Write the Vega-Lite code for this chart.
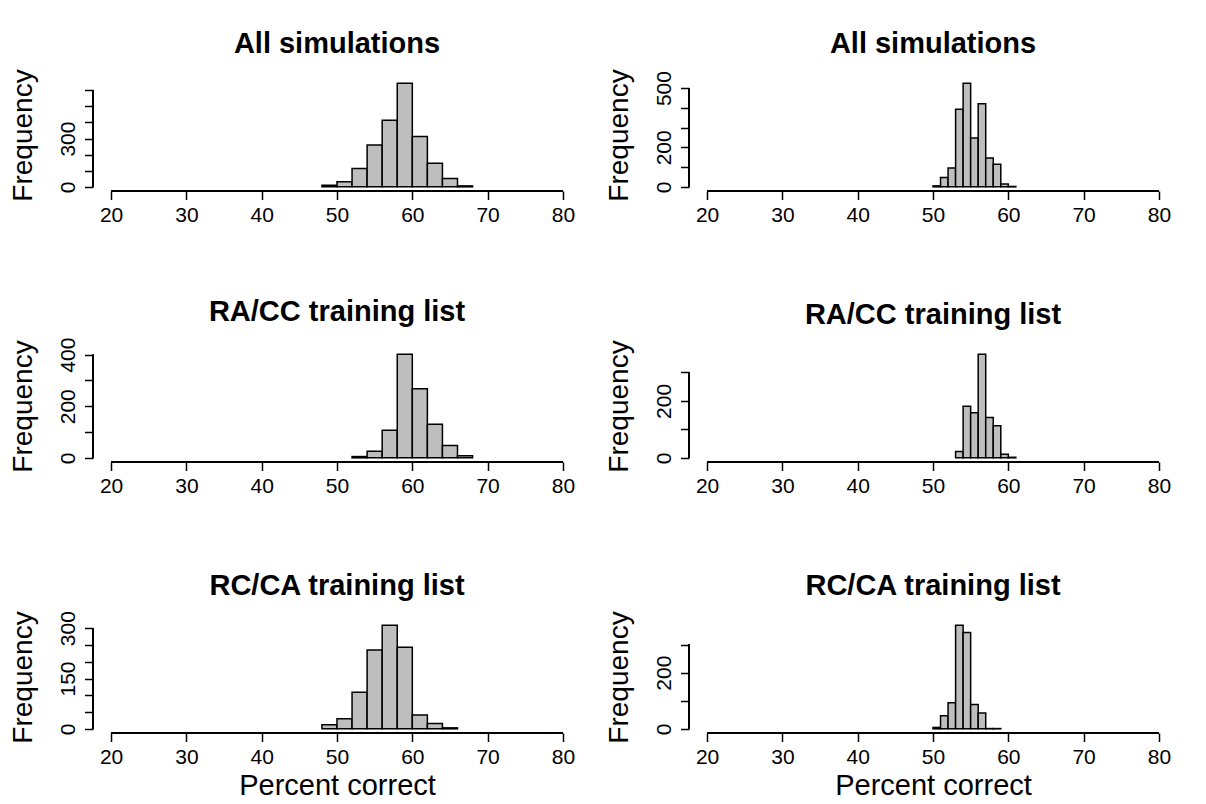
{
  "$schema": "https://vega.github.io/schema/vega-lite/v6.json",
  "background": "white",
  "padding": {"left": 9, "top": 29, "right": 5, "bottom": 5},
  "bounds": "flush",
  "columns": 2,
  "spacing": {"row": 159, "column": 108},
  "datasets": {
    "p1": [
      {"lo": 48, "hi": 50, "count": 10}, {"lo": 50, "hi": 52, "count": 31}, {"lo": 52, "hi": 54, "count": 114},
      {"lo": 54, "hi": 56, "count": 260}, {"lo": 56, "hi": 58, "count": 413}, {"lo": 58, "hi": 60, "count": 644},
      {"lo": 60, "hi": 62, "count": 312}, {"lo": 62, "hi": 64, "count": 147}, {"lo": 64, "hi": 66, "count": 52},
      {"lo": 66, "hi": 68, "count": 6}
    ],
    "p2": [
      {"lo": 50, "hi": 51, "count": 5}, {"lo": 51, "hi": 52, "count": 47}, {"lo": 52, "hi": 53, "count": 95},
      {"lo": 53, "hi": 54, "count": 393}, {"lo": 54, "hi": 55, "count": 525}, {"lo": 55, "hi": 56, "count": 247},
      {"lo": 56, "hi": 57, "count": 421}, {"lo": 57, "hi": 58, "count": 146}, {"lo": 58, "hi": 59, "count": 115},
      {"lo": 59, "hi": 60, "count": 14}, {"lo": 60, "hi": 61, "count": 2}
    ],
    "p3": [
      {"lo": 52, "hi": 54, "count": 5}, {"lo": 54, "hi": 56, "count": 26}, {"lo": 56, "hi": 58, "count": 107},
      {"lo": 58, "hi": 60, "count": 402}, {"lo": 60, "hi": 62, "count": 268}, {"lo": 62, "hi": 64, "count": 130},
      {"lo": 64, "hi": 66, "count": 48}, {"lo": 66, "hi": 68, "count": 8}
    ],
    "p4": [
      {"lo": 53, "hi": 54, "count": 22}, {"lo": 54, "hi": 55, "count": 181}, {"lo": 55, "hi": 56, "count": 158},
      {"lo": 56, "hi": 57, "count": 364}, {"lo": 57, "hi": 58, "count": 142}, {"lo": 58, "hi": 59, "count": 113},
      {"lo": 59, "hi": 60, "count": 13}, {"lo": 60, "hi": 61, "count": 2}
    ],
    "p5": [
      {"lo": 48, "hi": 50, "count": 12}, {"lo": 50, "hi": 52, "count": 30}, {"lo": 52, "hi": 54, "count": 109},
      {"lo": 54, "hi": 56, "count": 235}, {"lo": 56, "hi": 58, "count": 309}, {"lo": 58, "hi": 60, "count": 243},
      {"lo": 60, "hi": 62, "count": 41}, {"lo": 62, "hi": 64, "count": 16}, {"lo": 64, "hi": 66, "count": 3}
    ],
    "p6": [
      {"lo": 50, "hi": 51, "count": 5}, {"lo": 51, "hi": 52, "count": 47}, {"lo": 52, "hi": 53, "count": 93},
      {"lo": 53, "hi": 54, "count": 369}, {"lo": 54, "hi": 55, "count": 343}, {"lo": 55, "hi": 56, "count": 87},
      {"lo": 56, "hi": 57, "count": 56}, {"lo": 57, "hi": 58, "count": 1}, {"lo": 58, "hi": 59, "count": 1}
    ]
  },
  "concat": [
    {
      "width": 488, "height": 112,
      "title": {"text": "All simulations"},
      "data": {"name": "p1"},
      "layer": [
        {"mark": {"type": "rect", "fill": "#bebebe", "stroke": "black", "strokeWidth": 1.5},
         "encoding": {
           "x": {"field": "lo", "type": "quantitative", "scale": {"domain": [17.6, 82.4], "nice": false, "zero": false}, "axis": {"title": null, "values": [20, 30, 40, 50, 60, 70, 80]}},
           "x2": {"field": "hi"},
           "y": {"field": "count", "type": "quantitative", "scale": {"domain": [-25.8, 669.8], "nice": false, "zero": false}, "axis": {"title": "Frequency", "values": [0, 100, 200, 300, 400, 500, 600], "labelExpr": "datum.value == 0 || datum.value == 300 ? datum.label : ''"}},
           "y2": {"datum": 0}}},
        {"mark": {"type": "rule", "stroke": "black", "strokeWidth": 1.5},
         "encoding": {"x": {"datum": 20, "type": "quantitative", "axis": {"title": null, "values": [20, 30, 40, 50, 60, 70, 80]}}, "x2": {"datum": 80}, "y": {"datum": -25.8, "type": "quantitative", "axis": {"title": "Frequency", "values": [0, 100, 200, 300, 400, 500, 600], "labelExpr": "datum.value == 0 || datum.value == 300 ? datum.label : ''"}}}},
        {"mark": {"type": "rule", "stroke": "black", "strokeWidth": 1.5},
         "encoding": {"x": {"datum": 17.6, "type": "quantitative", "axis": {"title": null, "values": [20, 30, 40, 50, 60, 70, 80]}}, "y": {"datum": 0, "type": "quantitative", "axis": {"title": "Frequency", "values": [0, 100, 200, 300, 400, 500, 600], "labelExpr": "datum.value == 0 || datum.value == 300 ? datum.label : ''"}}, "y2": {"datum": 600}}}
      ]
    },
    {
      "width": 488, "height": 112,
      "title": {"text": "All simulations"},
      "data": {"name": "p2"},
      "layer": [
        {"mark": {"type": "rect", "fill": "#bebebe", "stroke": "black", "strokeWidth": 1.5},
         "encoding": {
           "x": {"field": "lo", "type": "quantitative", "scale": {"domain": [17.6, 82.4], "nice": false, "zero": false}, "axis": {"title": null, "values": [20, 30, 40, 50, 60, 70, 80]}},
           "x2": {"field": "hi"},
           "y": {"field": "count", "type": "quantitative", "scale": {"domain": [-21, 546], "nice": false, "zero": false}, "axis": {"title": "Frequency", "values": [0, 100, 200, 300, 400, 500], "labelExpr": "datum.value == 0 || datum.value == 200 || datum.value == 500 ? datum.label : ''"}},
           "y2": {"datum": 0}}},
        {"mark": {"type": "rule", "stroke": "black", "strokeWidth": 1.5},
         "encoding": {"x": {"datum": 20, "type": "quantitative", "axis": {"title": null, "values": [20, 30, 40, 50, 60, 70, 80]}}, "x2": {"datum": 80}, "y": {"datum": -21, "type": "quantitative", "axis": {"title": "Frequency", "values": [0, 100, 200, 300, 400, 500], "labelExpr": "datum.value == 0 || datum.value == 200 || datum.value == 500 ? datum.label : ''"}}}},
        {"mark": {"type": "rule", "stroke": "black", "strokeWidth": 1.5},
         "encoding": {"x": {"datum": 17.6, "type": "quantitative", "axis": {"title": null, "values": [20, 30, 40, 50, 60, 70, 80]}}, "y": {"datum": 0, "type": "quantitative", "axis": {"title": "Frequency", "values": [0, 100, 200, 300, 400, 500], "labelExpr": "datum.value == 0 || datum.value == 200 || datum.value == 500 ? datum.label : ''"}}, "y2": {"datum": 500}}}
      ]
    },
    {
      "width": 488, "height": 112,
      "title": {"text": "RA/CC training list"},
      "data": {"name": "p3"},
      "layer": [
        {"mark": {"type": "rect", "fill": "#bebebe", "stroke": "black", "strokeWidth": 1.5},
         "encoding": {
           "x": {"field": "lo", "type": "quantitative", "scale": {"domain": [17.6, 82.4], "nice": false, "zero": false}, "axis": {"title": null, "values": [20, 30, 40, 50, 60, 70, 80]}},
           "x2": {"field": "hi"},
           "y": {"field": "count", "type": "quantitative", "scale": {"domain": [-16.1, 418.1], "nice": false, "zero": false}, "axis": {"title": "Frequency", "values": [0, 100, 200, 300, 400], "labelExpr": "datum.value == 0 || datum.value == 200 || datum.value == 400 ? datum.label : ''"}},
           "y2": {"datum": 0}}},
        {"mark": {"type": "rule", "stroke": "black", "strokeWidth": 1.5},
         "encoding": {"x": {"datum": 20, "type": "quantitative", "axis": {"title": null, "values": [20, 30, 40, 50, 60, 70, 80]}}, "x2": {"datum": 80}, "y": {"datum": -16.1, "type": "quantitative", "axis": {"title": "Frequency", "values": [0, 100, 200, 300, 400], "labelExpr": "datum.value == 0 || datum.value == 200 || datum.value == 400 ? datum.label : ''"}}}},
        {"mark": {"type": "rule", "stroke": "black", "strokeWidth": 1.5},
         "encoding": {"x": {"datum": 17.6, "type": "quantitative", "axis": {"title": null, "values": [20, 30, 40, 50, 60, 70, 80]}}, "y": {"datum": 0, "type": "quantitative", "axis": {"title": "Frequency", "values": [0, 100, 200, 300, 400], "labelExpr": "datum.value == 0 || datum.value == 200 || datum.value == 400 ? datum.label : ''"}}, "y2": {"datum": 400}}}
      ]
    },
    {
      "width": 488, "height": 112,
      "title": {"text": "RA/CC training list"},
      "data": {"name": "p4"},
      "layer": [
        {"mark": {"type": "rect", "fill": "#bebebe", "stroke": "black", "strokeWidth": 1.5},
         "encoding": {
           "x": {"field": "lo", "type": "quantitative", "scale": {"domain": [17.6, 82.4], "nice": false, "zero": false}, "axis": {"title": null, "values": [20, 30, 40, 50, 60, 70, 80]}},
           "x2": {"field": "hi"},
           "y": {"field": "count", "type": "quantitative", "scale": {"domain": [-14.6, 378.6], "nice": false, "zero": false}, "axis": {"title": "Frequency", "values": [0, 100, 200, 300], "labelExpr": "datum.value == 0 || datum.value == 200 ? datum.label : ''"}},
           "y2": {"datum": 0}}},
        {"mark": {"type": "rule", "stroke": "black", "strokeWidth": 1.5},
         "encoding": {"x": {"datum": 20, "type": "quantitative", "axis": {"title": null, "values": [20, 30, 40, 50, 60, 70, 80]}}, "x2": {"datum": 80}, "y": {"datum": -14.6, "type": "quantitative", "axis": {"title": "Frequency", "values": [0, 100, 200, 300], "labelExpr": "datum.value == 0 || datum.value == 200 ? datum.label : ''"}}}},
        {"mark": {"type": "rule", "stroke": "black", "strokeWidth": 1.5},
         "encoding": {"x": {"datum": 17.6, "type": "quantitative", "axis": {"title": null, "values": [20, 30, 40, 50, 60, 70, 80]}}, "y": {"datum": 0, "type": "quantitative", "axis": {"title": "Frequency", "values": [0, 100, 200, 300], "labelExpr": "datum.value == 0 || datum.value == 200 ? datum.label : ''"}}, "y2": {"datum": 300}}}
      ]
    },
    {
      "width": 488, "height": 112,
      "title": {"text": "RC/CA training list"},
      "data": {"name": "p5"},
      "layer": [
        {"mark": {"type": "rect", "fill": "#bebebe", "stroke": "black", "strokeWidth": 1.5},
         "encoding": {
           "x": {"field": "lo", "type": "quantitative", "scale": {"domain": [17.6, 82.4], "nice": false, "zero": false}, "axis": {"title": "Percent correct", "values": [20, 30, 40, 50, 60, 70, 80]}},
           "x2": {"field": "hi"},
           "y": {"field": "count", "type": "quantitative", "scale": {"domain": [-12.4, 321.4], "nice": false, "zero": false}, "axis": {"title": "Frequency", "values": [0, 50, 100, 150, 200, 250, 300], "labelExpr": "datum.value == 0 || datum.value == 150 || datum.value == 300 ? datum.label : ''"}},
           "y2": {"datum": 0}}},
        {"mark": {"type": "rule", "stroke": "black", "strokeWidth": 1.5},
         "encoding": {"x": {"datum": 20, "type": "quantitative", "axis": {"title": "Percent correct", "values": [20, 30, 40, 50, 60, 70, 80]}}, "x2": {"datum": 80}, "y": {"datum": -12.4, "type": "quantitative", "axis": {"title": "Frequency", "values": [0, 50, 100, 150, 200, 250, 300], "labelExpr": "datum.value == 0 || datum.value == 150 || datum.value == 300 ? datum.label : ''"}}}},
        {"mark": {"type": "rule", "stroke": "black", "strokeWidth": 1.5},
         "encoding": {"x": {"datum": 17.6, "type": "quantitative", "axis": {"title": "Percent correct", "values": [20, 30, 40, 50, 60, 70, 80]}}, "y": {"datum": 0, "type": "quantitative", "axis": {"title": "Frequency", "values": [0, 50, 100, 150, 200, 250, 300], "labelExpr": "datum.value == 0 || datum.value == 150 || datum.value == 300 ? datum.label : ''"}}, "y2": {"datum": 300}}}
      ]
    },
    {
      "width": 488, "height": 112,
      "title": {"text": "RC/CA training list"},
      "data": {"name": "p6"},
      "layer": [
        {"mark": {"type": "rect", "fill": "#bebebe", "stroke": "black", "strokeWidth": 1.5},
         "encoding": {
           "x": {"field": "lo", "type": "quantitative", "scale": {"domain": [17.6, 82.4], "nice": false, "zero": false}, "axis": {"title": "Percent correct", "values": [20, 30, 40, 50, 60, 70, 80]}},
           "x2": {"field": "hi"},
           "y": {"field": "count", "type": "quantitative", "scale": {"domain": [-14.8, 383.8], "nice": false, "zero": false}, "axis": {"title": "Frequency", "values": [0, 100, 200, 300], "labelExpr": "datum.value == 0 || datum.value == 200 ? datum.label : ''"}},
           "y2": {"datum": 0}}},
        {"mark": {"type": "rule", "stroke": "black", "strokeWidth": 1.5},
         "encoding": {"x": {"datum": 20, "type": "quantitative", "axis": {"title": "Percent correct", "values": [20, 30, 40, 50, 60, 70, 80]}}, "x2": {"datum": 80}, "y": {"datum": -14.8, "type": "quantitative", "axis": {"title": "Frequency", "values": [0, 100, 200, 300], "labelExpr": "datum.value == 0 || datum.value == 200 ? datum.label : ''"}}}},
        {"mark": {"type": "rule", "stroke": "black", "strokeWidth": 1.5},
         "encoding": {"x": {"datum": 17.6, "type": "quantitative", "axis": {"title": "Percent correct", "values": [20, 30, 40, 50, 60, 70, 80]}}, "y": {"datum": 0, "type": "quantitative", "axis": {"title": "Frequency", "values": [0, 100, 200, 300], "labelExpr": "datum.value == 0 || datum.value == 200 ? datum.label : ''"}}, "y2": {"datum": 300}}}
      ]
    }
  ],
  "config": {
    "font": "Liberation Sans",
    "view": {"stroke": null},
    "axis": {
      "domain": false, "grid": false,
      "tickColor": "black", "tickWidth": 1.5, "tickSize": 8.5,
      "labelFont": "Liberation Sans", "labelFontSize": 21, "labelColor": "black",
      "labelOverlap": false, "labelFlush": false,
      "titleFont": "Liberation Sans", "titleFontSize": 28, "titleFontWeight": "normal", "titleColor": "black"
    },
    "axisX": {"labelPadding": 5, "titlePadding": 4, "titleFontSize": 29},
    "axisY": {"labelAngle": 270, "labelAlign": "center", "labelBaseline": "bottom", "labelPadding": 6, "titlePadding": 20},
    "title": {"font": "Liberation Sans", "fontSize": 29, "fontWeight": "bold", "color": "black", "anchor": "middle", "baseline": "alphabetic", "offset": 10}
  }
}
